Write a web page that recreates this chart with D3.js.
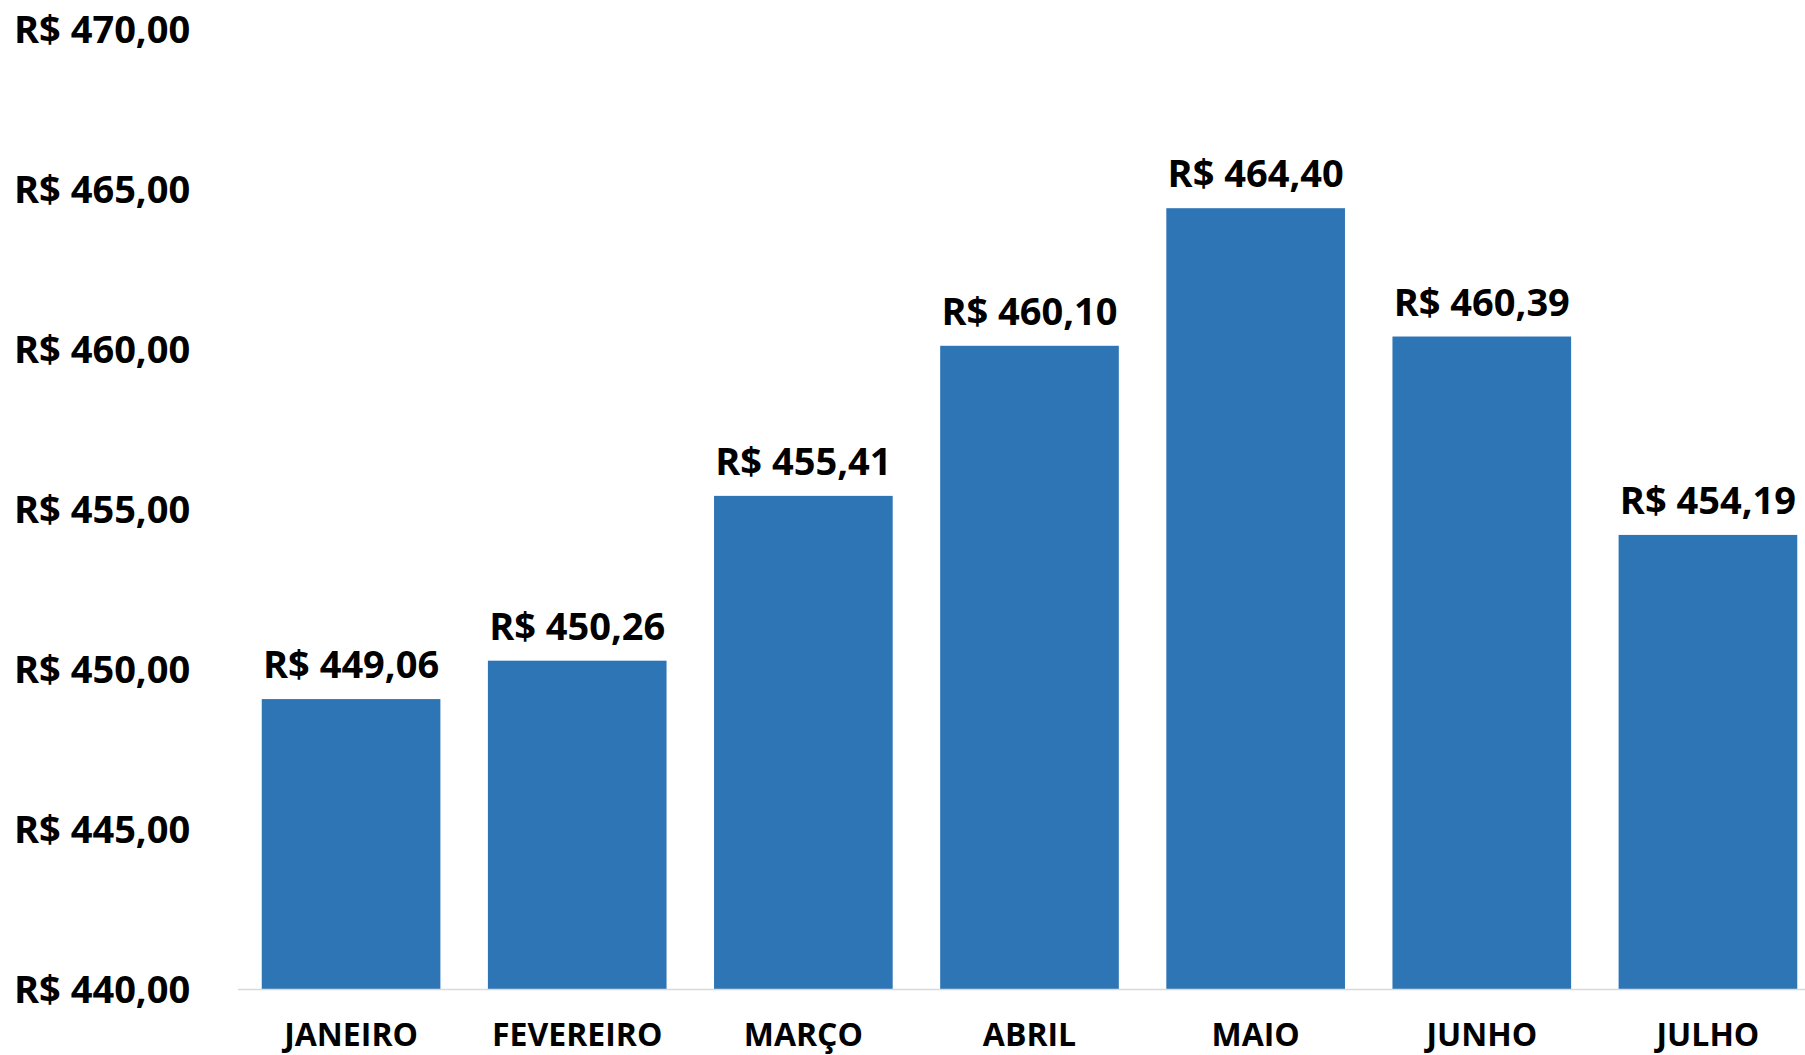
<!DOCTYPE html>
<html>
<head>
<meta charset="utf-8">
<script src="https://cdn.jsdelivr.net/npm/d3@7"></script>
<style>
  html, body { margin: 0; padding: 0; background: #fff; }
  svg text { font-family: "Open Sans", Lato, sans-serif; font-weight: 700; fill: #000; }
</style>
</head>
<body>
<script>
const months = ["JANEIRO", "FEVEREIRO", "MARÇO", "ABRIL", "MAIO", "JUNHO", "JULHO"];
const values = [449.06, 450.26, 455.41, 460.10, 464.40, 460.39, 454.19];
const yTicks = [440, 445, 450, 455, 460, 465, 470];

const width = 1805;
const height = 1055;

const ptBR = d3.formatLocale({
  decimal: ",",
  thousands: ".",
  grouping: [3],
  currency: ["R$ ", ""]
});
const money = ptBR.format("$,.2f");

const svg = d3.select("body")
  .append("svg")
  .attr("width", width)
  .attr("height", height);

// plot area runs a bit past the right edge, like the original
const x = d3.scaleBand()
  .domain(months)
  .range([238, 1821])
  .paddingInner(0.21)
  .paddingOuter(0.105);

const y = d3.scaleLinear()
  .domain([440, 470])
  .range([989, 29]);

// y axis labels, left aligned
const yAxis = svg.append("g")
  .call(d3.axisLeft(y).tickValues(yTicks).tickFormat(money).tickSize(0));
yAxis.select(".domain").remove();
yAxis.selectAll("text")
  .attr("x", 14)
  .attr("dy", "0.36em")
  .attr("text-anchor", "start")
  .style("font-size", "38px")
  .style("font-family", "'Open Sans', sans-serif")
  .style("font-weight", 700)
  .attr("fill", "#000");

// bars
svg.append("g")
  .selectAll("rect")
  .data(values)
  .join("rect")
  .attr("x", (d, i) => x(months[i]))
  .attr("y", d => y(d))
  .attr("width", x.bandwidth())
  .attr("height", d => y(440) - y(d))
  .attr("fill", "#2E75B6");

// baseline
svg.append("line")
  .attr("x1", 238)
  .attr("x2", width)
  .attr("y1", y(440) + 0.5)
  .attr("y2", y(440) + 0.5)
  .attr("stroke", "#d9d9d9")
  .attr("stroke-width", 1.5);

// value labels
svg.append("g")
  .selectAll("text")
  .data(values)
  .join("text")
  .attr("x", (d, i) => x(months[i]) + x.bandwidth() / 2)
  .attr("y", d => y(d) - 21)
  .attr("text-anchor", "middle")
  .style("font-size", "38px")
  .text(d => money(d));

// category labels
const xAxis = svg.append("g")
  .attr("transform", "translate(0," + y(440) + ")")
  .call(d3.axisBottom(x).tickSize(0));
xAxis.select(".domain").remove();
xAxis.selectAll("text")
  .attr("y", 57)
  .attr("dy", 0)
  .style("font-size", "32px")
  .style("font-family", "'Open Sans', sans-serif")
  .style("font-weight", 700)
  .attr("fill", "#000");
</script>
</body>
</html>
